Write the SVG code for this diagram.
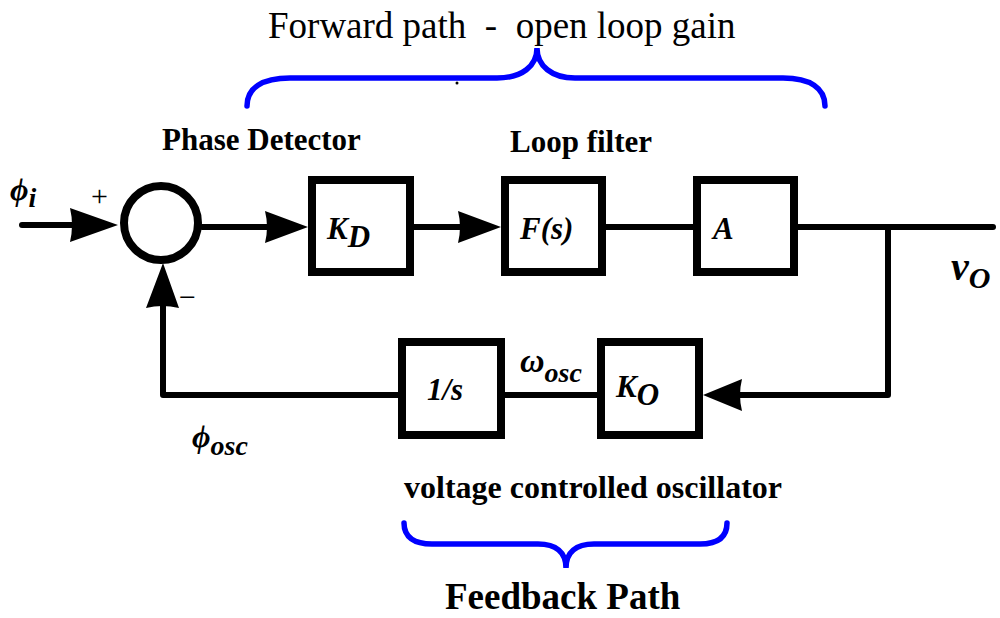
<svg xmlns="http://www.w3.org/2000/svg" width="1000" height="618" viewBox="0 0 1000 618">
<style>
.box{fill:#fff;stroke:#000;stroke-width:8;stroke-linejoin:miter}
.ln{fill:none;stroke:#000;stroke-width:6;stroke-linecap:round;stroke-linejoin:round}
.ah{fill:#000;stroke:none}
.brace{fill:none;stroke:#0000ff;stroke-width:5.5;stroke-linecap:round}
.bi{font-family:"Liberation Serif","DejaVu Serif",serif;font-weight:bold;font-style:italic;fill:#000}
.b{font-family:"Liberation Serif","DejaVu Serif",serif;font-weight:bold;fill:#000}
.r{font-family:"Liberation Serif","DejaVu Serif",serif;fill:#000}
</style>
<rect width="1000" height="618" fill="#fff"/>

<g id="connectors">
  <polyline class="ln" points="22,225 75,225"/>
  <path class="ah" d="M118,225 L70,242 Q74,225 70,208 Z"/>
  <polyline class="ln" points="202,227 268,227"/>
  <path class="ah" d="M308,227 L265,243 Q269,227 265,211 Z"/>
  <polyline class="ln" points="414,227 460,227"/>
  <path class="ah" d="M501,227 L458,243 Q462,227 458,211 Z"/>
  <polyline class="ln" points="606,227 693,227"/>
  <polyline class="ln" points="798,227 993,227"/>
  <polyline class="ln" points="888,227 888,395 738,395"/>
  <path class="ah" d="M703,395 L742,379 Q738,395 742,411 Z"/>
  <polyline class="ln" points="597,395 505,395"/>
  <polyline class="ln" points="398,395 163,395 163,304"/>
  <path class="ah" d="M163,263 L146,308 Q162,304 179,308 Z"/>
</g>

<g id="summer">
  <circle cx="161" cy="223" r="37" fill="#fff" stroke="#000" stroke-width="8"/>
  <text class="r" x="91" y="206" font-size="30">+</text>
  <text class="r" x="179" y="307" font-size="30">−</text>
</g>

<g id="kd">
  <rect class="box" x="312" y="180" width="98" height="92"/>
  <text class="bi" x="327" y="239" font-size="31">K<tspan dy="8">D</tspan></text>
</g>
<g id="fs">
  <rect class="box" x="505" y="180" width="97" height="92"/>
  <text class="bi" x="520" y="239" font-size="31">F(s)</text>
</g>
<g id="a">
  <rect class="box" x="697" y="180" width="97" height="92"/>
  <text class="bi" x="713" y="239" font-size="31">A</text>
</g>
<g id="integ">
  <rect class="box" x="402" y="342" width="99" height="93"/>
  <text class="bi" x="427" y="400" font-size="31">1/s</text>
</g>
<g id="ko">
  <rect class="box" x="601" y="342" width="98" height="93"/>
  <text class="bi" x="616" y="397" font-size="31">K<tspan dy="8">O</tspan></text>
</g>

<g id="labels">
  <text class="bi" x="10" y="200" font-size="32">ϕ<tspan dy="7" font-size="28">i</tspan></text>
  <text class="bi" x="520" y="372" font-size="34">ω<tspan dy="10" font-size="28">osc</tspan></text>
  <text class="bi" x="192" y="447" font-size="32">ϕ<tspan dy="8" font-size="28">osc</tspan></text>
  <text class="bi" x="951" y="280" font-size="40">v<tspan dy="8" font-size="30">O</tspan></text>
  <text class="b" x="162" y="150" font-size="31">Phase Detector</text>
  <text class="b" x="510" y="152" font-size="31">Loop filter</text>
</g>

<g id="forward-brace">
  <text class="r" x="268" y="38" font-size="37" xml:space="preserve" style="white-space:pre">Forward path  -  open loop gain</text>
  <path class="brace" d="M247,106 C247,88 262,78 290,78 L497,78 C522,78 537,66 537,48 C537,66 552,78 575,78 L783,78 C810,78 825,88 825,106"/>
  <circle cx="457" cy="83" r="1.5" fill="#000"/>
</g>

<g id="feedback-brace">
  <text class="b" x="404" y="498" font-size="32">voltage controlled oscillator</text>
  <path class="brace" d="M404,523 C404,537 414,544 432,544 L538,544 C556,544 566,552 566,568 C566,552 576,544 594,544 L700,544 C718,544 727,537 727,523"/>
  <text class="b" x="445" y="609" font-size="37">Feedback Path</text>
</g>
</svg>
